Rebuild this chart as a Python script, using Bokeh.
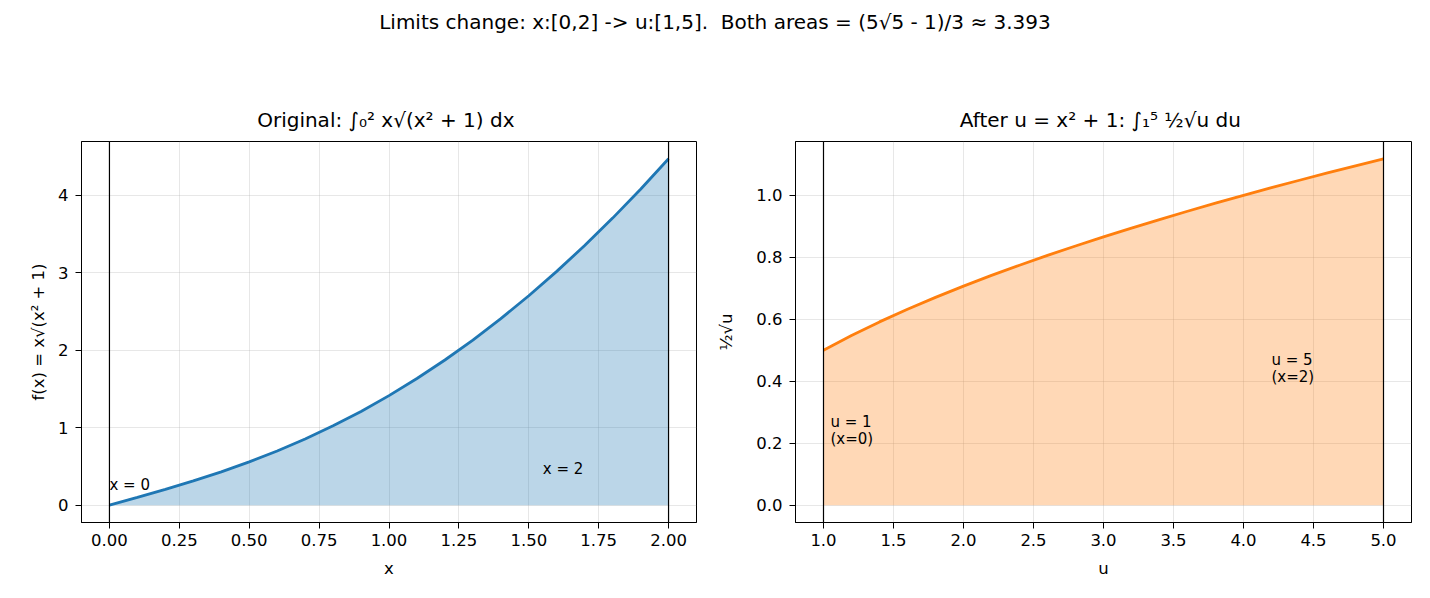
from bokeh.plotting import figure
from bokeh.models import Range1d, Span, Label, Div, FixedTicker, NumeralTickFormatter
from bokeh.layouts import column, row
from bokeh.embed import file_html
from bokeh.resources import INLINE

# ---- data ----
x_vals = [0.0, 0.1, 0.2, 0.3, 0.4, 0.5, 0.6, 0.7, 0.8, 0.9, 1.0,
          1.1, 1.2, 1.3, 1.4, 1.5, 1.6, 1.7, 1.8, 1.9, 2.0]
fx_vals = [0.0, 0.1005, 0.2040, 0.3132, 0.4308, 0.5590, 0.6997, 0.8545, 1.0245, 1.2108, 1.4142,
           1.6353, 1.8745, 2.1322, 2.4087, 2.7042, 3.0189, 3.3529, 3.7064, 4.0795, 4.4721]
u_vals = [1.0, 1.2, 1.4, 1.6, 1.8, 2.0, 2.2, 2.4, 2.6, 2.8, 3.0,
          3.2, 3.4, 3.6, 3.8, 4.0, 4.2, 4.4, 4.6, 4.8, 5.0]
gu_vals = [0.5, 0.5477, 0.5916, 0.6325, 0.6708, 0.7071, 0.7416, 0.7746, 0.8062, 0.8367, 0.8660,
           0.8944, 0.9220, 0.9487, 0.9747, 1.0, 1.0247, 1.0488, 1.0724, 1.0954, 1.1180]
x_limits = [0.0, 2.0]
u_limits = [1.0, 5.0]
left_xticks = [0.0, 0.25, 0.5, 0.75, 1.0, 1.25, 1.5, 1.75, 2.0]
left_yticks = [0, 1, 2, 3, 4]
right_xticks = [1.0, 1.5, 2.0, 2.5, 3.0, 3.5, 4.0, 4.5, 5.0]
right_yticks = [0.0, 0.2, 0.4, 0.6, 0.8, 1.0]

FONT = "DejaVu Sans"
BLUE = "#1f77b4"
ORANGE = "#ff7f0e"


def style(p, xlabel, ylabel, xticks, yticks, xfmt, yfmt, ylab_standoff=7):
    p.title.text_font = FONT
    p.title.text_font_size = "20px"
    p.title.text_font_style = "normal"
    p.title.text_color = "black"
    p.title.align = "center"
    p.title.standoff = 20
    p.outline_line_color = "black"
    p.outline_line_width = 1
    p.outline_line_alpha = 1
    for ax in (p.xaxis[0], p.yaxis[0]):
        ax.axis_line_color = "black"
        ax.major_tick_in = 0
        ax.major_tick_out = 6
        ax.major_tick_line_color = "black"
        ax.minor_tick_line_color = None
        ax.major_label_standoff = 5
        ax.major_label_text_font = FONT
        ax.major_label_text_font_size = "16.5px"
        ax.major_label_text_color = "black"
        ax.axis_label_text_font = FONT
        ax.axis_label_text_font_size = "16.5px"
        ax.axis_label_text_font_style = "normal"
        ax.axis_label_text_color = "black"
    p.yaxis[0].major_label_standoff = 7
    p.xaxis[0].axis_label = xlabel
    p.yaxis[0].axis_label = ylabel
    p.xaxis[0].ticker = FixedTicker(ticks=xticks)
    p.yaxis[0].ticker = FixedTicker(ticks=yticks)
    p.xaxis[0].formatter = NumeralTickFormatter(format=xfmt)
    p.yaxis[0].formatter = NumeralTickFormatter(format=yfmt)
    p.xaxis[0].axis_label_standoff = 10
    p.yaxis[0].axis_label_standoff = ylab_standoff
    p.grid.grid_line_color = "#b0b0b0"
    p.grid.grid_line_alpha = 0.3
    p.grid.grid_line_width = 1


def pad(lo, hi, frac=0.05):
    d = (hi - lo) * frac
    return lo - d, hi + d


def label(p, x, y, text, yoff=0):
    p.add_layout(Label(x=x, y=y, y_offset=yoff, text=text, text_font=FONT, text_font_size="15px",
                       text_baseline="alphabetic", text_align="left", text_color="black"))


# ---- left plot ----
xl0, xl1 = pad(min(x_vals), max(x_vals))
yl0, yl1 = pad(0.0, max(fx_vals))
p1 = figure(width=710, height=558, output_backend="svg", toolbar_location=None,
            x_range=Range1d(xl0, xl1), y_range=Range1d(yl0, yl1),
            min_border_left=81, min_border_right=14, min_border_top=101, min_border_bottom=76,
            title="Original:  ∫₀² x√(x² + 1) dx")
style(p1, "x", "f(x) = x√(x² + 1)", left_xticks, left_yticks, "0.00", "0")
p1.varea(x=x_vals, y1=[0] * len(x_vals), y2=fx_vals, fill_color=BLUE, fill_alpha=0.3)
p1.line(x_vals, fx_vals, line_color=BLUE, line_width=2.8)
for loc in x_limits:
    p1.add_layout(Span(location=loc, dimension="height", line_color="black", line_width=1.2))
label(p1, 0.0, 0.2, "x = 0", 5)
label(p1, 1.55, 0.4, "x = 2", 5)

# ---- right plot ----
ur0, ur1 = pad(min(u_vals), max(u_vals))
gr0, gr1 = pad(0.0, max(gu_vals))
p2 = figure(width=720, height=558, output_backend="svg", toolbar_location=None,
            x_range=Range1d(ur0, ur1), y_range=Range1d(gr0, gr1),
            min_border_left=85, min_border_right=19, min_border_top=101, min_border_bottom=76,
            title="After u = x² + 1:  ∫₁⁵ ½√u du")
style(p2, "u", "½√u", right_xticks, right_yticks, "0.0", "0.0", ylab_standoff=17)
p2.varea(x=u_vals, y1=[0] * len(u_vals), y2=gu_vals, fill_color=ORANGE, fill_alpha=0.3)
p2.line(u_vals, gu_vals, line_color=ORANGE, line_width=2.8)
for loc in u_limits:
    p2.add_layout(Span(location=loc, dimension="height", line_color="black", line_width=1.2))
label(p2, 1.05, 0.2, "u = 1", 21)
label(p2, 1.05, 0.2, "(x=0)", 4)
label(p2, 4.2, 0.4, "u = 5", 21)
label(p2, 4.2, 0.4, "(x=2)", 4)

sup = Div(text='<span style="font-size:20px;font-family:\'DejaVu Sans\';color:black">'
               'Limits change: x:[0,2] -&gt; u:[1,5].&nbsp; Both areas = (5√5 - 1)/3 ≈ 3.393</span>',
          width=1430, height=40, margin=0,
          styles={"text-align": "center", "font-family": FONT, "font-size": "20px",
                  "color": "black", "padding-top": "8px", "width": "1430px"})

layout = column(sup, row(p1, p2, spacing=0), spacing=0)
open("out.html", "w").write(file_html(layout, INLINE))
